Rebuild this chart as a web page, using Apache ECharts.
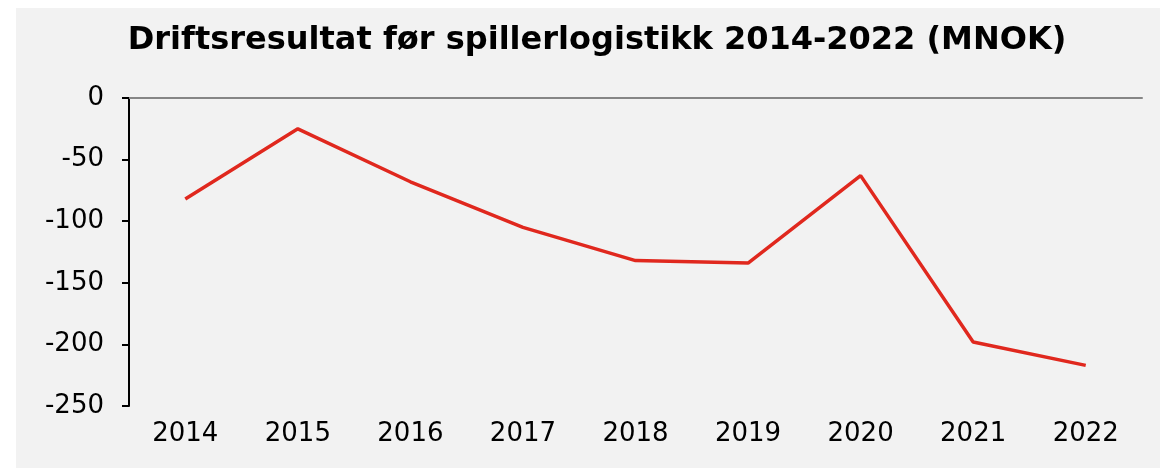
<!DOCTYPE html>
<html>
<head>
<meta charset="utf-8">
<script src="https://cdn.jsdelivr.net/npm/echarts@6/dist/echarts.min.js"></script>
<style>
html,body{margin:0;padding:0;background:#ffffff;}
#chart{width:1160px;height:468px;}
</style>
</head>
<body>
<div id="chart"></div>
<script>
const titleText = 'Driftsresultat før spillerlogistikk 2014-2022 (MNOK)';
const categories = ['2014','2015','2016','2017','2018','2019','2020','2021','2022'];
const values = [-82, -25, -68, -105, -132, -134, -63, -198, -217];
const yMin = -250, yMax = 0, yStep = 50;

const chart = echarts.init(document.getElementById('chart'), null, {renderer:'canvas'});
const font = '"DejaVu Sans", Verdana, sans-serif';
chart.setOption({
  backgroundColor: '#ffffff',
  animation: false,
  graphic: [{
    type: 'rect', z: -10, silent: true,
    shape: {x: 16, y: 8, width: 1144, height: 460},
    style: {fill: '#f2f2f2'}
  }],
  title: {
    text: titleText, left: 592, top: 20, textAlign: 'center',
    textStyle: {fontFamily: font, fontWeight: 'bold', fontSize: 32, color: '#000'}
  },
  grid: {left: 129, right: 18, top: 98, bottom: 62, containLabel: false},
  xAxis: [{
    type: 'category', data: categories, position: 'bottom', boundaryGap: true,
    axisLine: {show: false}, axisTick: {show: false},
    axisLabel: {fontFamily: font, fontSize: 26, color: '#000', margin: 15}
  }, {
    type: 'category', data: categories, position: 'top', boundaryGap: true,
    axisLine: {show: true, onZero: false, lineStyle: {color: '#868686', width: 2}},
    axisTick: {show: false}, axisLabel: {show: false}
  }],
  yAxis: {
    type: 'value', min: yMin, max: yMax, interval: yStep,
    axisLine: {show: true, lineStyle: {color: '#000', width: 2}},
    axisTick: {show: true, length: 7, lineStyle: {color: '#000', width: 2}},
    splitLine: {show: false},
    axisLabel: {fontFamily: font, fontSize: 26, color: '#000', margin: 25}
  },
  series: [{
    type: 'line', data: values, xAxisIndex: 0, symbol: 'none',
    lineStyle: {color: '#e0281e', width: 3.5}
  }]
});
</script>
</body>
</html>
